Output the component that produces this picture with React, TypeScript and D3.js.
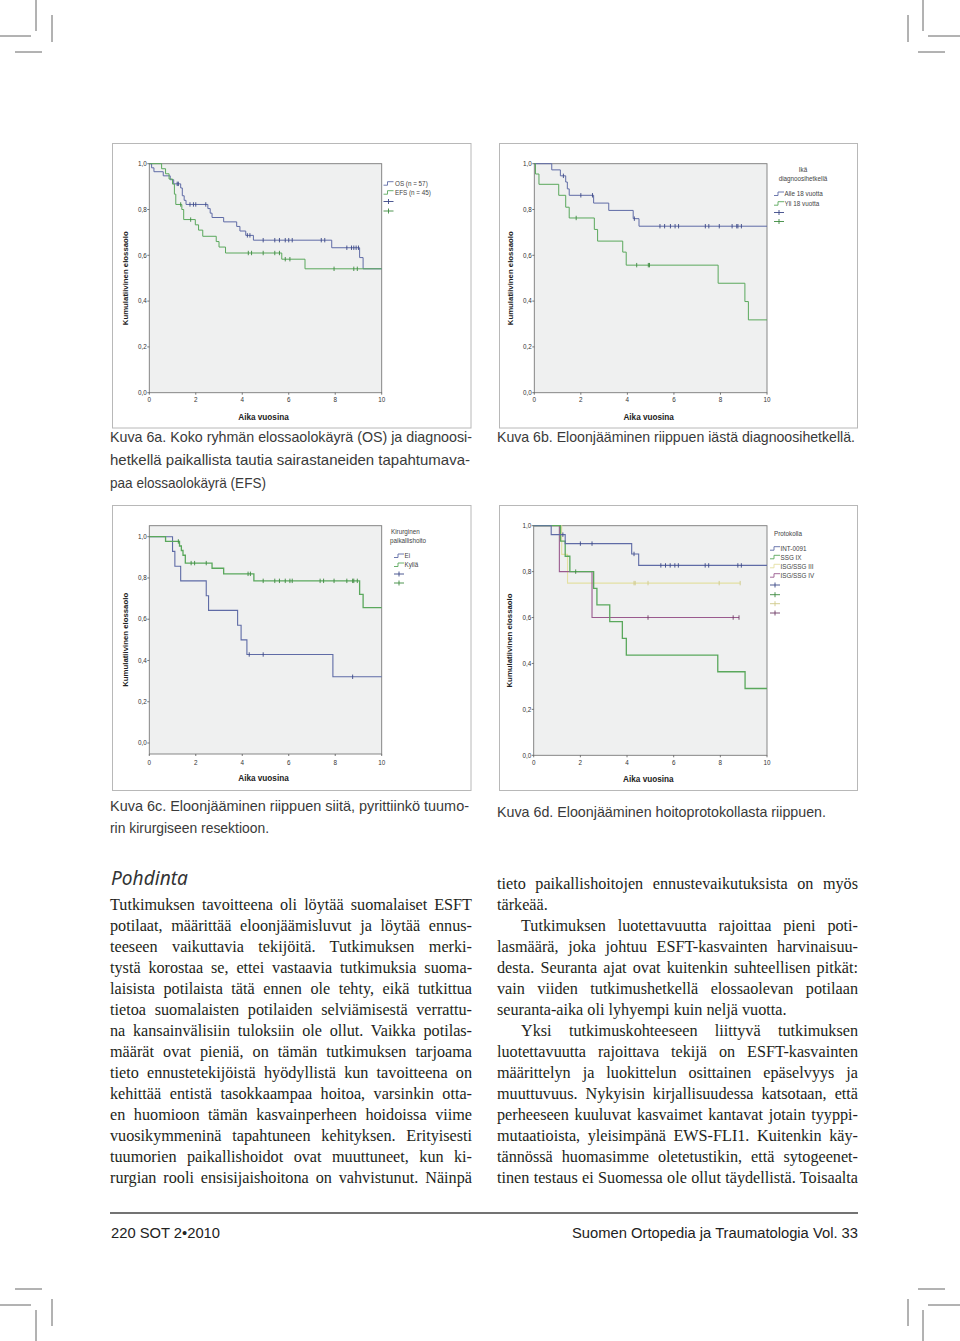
import { useEffect, useRef } from "react";
import * as d3 from "d3";

// ---- Kuva 6a: OS / EFS ----
const osTimes = [0, 0.1, 0.2, 0.6, 0.9, 1.05, 1.35, 1.42, 1.5, 1.58, 2.52, 2.62, 2.7, 3.2, 3.76, 3.9, 4.15, 4.48, 7.85, 9.05, 9.2];
const osSurv = [1, 0.982, 0.965, 0.947, 0.93, 0.912, 0.894, 0.86, 0.84, 0.822, 0.804, 0.784, 0.765, 0.746, 0.726, 0.706, 0.687, 0.666, 0.633, 0.59, 0.541];
const osCens = [1.2, 1.25, 1.75, 1.9, 2.0, 2.43, 4.22, 4.33, 4.9, 5.4, 5.6, 5.85, 6.0, 6.15, 7.4, 7.55, 8.5, 8.7, 8.8, 8.9, 9.0];
const efsTimes = [0, 0.53, 0.7, 0.85, 1.0, 1.08, 1.14, 1.4, 1.48, 1.98, 2.12, 2.3, 2.88, 3.0, 3.28, 5.7, 6.7];
const efsSurv = [1, 0.978, 0.956, 0.933, 0.911, 0.867, 0.822, 0.8, 0.756, 0.733, 0.71, 0.683, 0.66, 0.636, 0.61, 0.583, 0.541];
const efsCens = [1.35, 1.78, 4.26, 4.4, 4.9, 5.4, 5.6, 5.85, 6.05, 7.95, 8.8, 8.95];

// ---- Kuva 6b: ikä diagnoosihetkellä ----
const alleTimes = [0, 0.75, 1.12, 1.35, 1.42, 1.5, 2.55, 3.2, 4.25, 4.5];
const alleSurv = [1, 0.973, 0.947, 0.92, 0.89, 0.862, 0.828, 0.796, 0.76, 0.727];
const alleCens = [1.25, 2.0, 2.5, 4.3, 5.4, 5.6, 5.85, 6.05, 6.2, 7.35, 7.5, 7.95, 8.5, 8.7, 8.75, 8.9];
const yliTimes = [0, 0.05, 0.2, 1.05, 1.35, 1.5, 2.58, 2.72, 3.8, 3.95, 7.9, 9.05, 9.2];
const yliSurv = [1, 0.955, 0.91, 0.862, 0.81, 0.763, 0.713, 0.662, 0.614, 0.557, 0.478, 0.398, 0.318];
const yliCens = [1.8, 4.4, 4.9, 4.95];

// ---- Kuva 6c: kirurginen paikallishoito ----
const eiTimes = [0, 1.0, 1.1, 1.35, 2.45, 2.55, 3.8, 3.95, 4.2, 7.9];
const eiSurv = [1, 0.929, 0.857, 0.786, 0.714, 0.643, 0.571, 0.5, 0.429, 0.321];
const eiCens = [4.3, 4.9, 8.75];
const kyllaTimes = [0, 0.7, 1.3, 1.38, 1.45, 1.55, 2.7, 3.2, 4.5, 9.05, 9.2];
const kyllaSurv = [1, 0.977, 0.955, 0.933, 0.91, 0.872, 0.847, 0.82, 0.786, 0.72, 0.656];
const kyllaCens = [1.25, 1.8, 1.95, 2.45, 4.25, 4.35, 4.9, 5.4, 5.6, 5.85, 6.05, 6.15, 7.35, 7.5, 7.95, 8.5, 8.75, 8.8, 8.95];

// ---- Kuva 6d: hoitoprotokolla ----
const intTimes = [0, 0.75, 1.35, 4.2, 4.5];
const intSurv = [1, 0.961, 0.922, 0.877, 0.827];
const intCens = [1.25, 2.0, 2.5, 4.3, 5.45, 5.65, 5.85, 6.05, 6.2, 7.35, 7.5, 8.75, 8.9];
const ssg9Times = [0, 1.15, 1.35, 1.55, 2.57, 2.71, 3.26, 3.8, 3.97, 7.89, 9.06];
const ssg9Surv = [1, 0.933, 0.867, 0.8, 0.727, 0.655, 0.582, 0.509, 0.436, 0.364, 0.291];
const ssg9Cens = [1.8];
const ssg3Times = [0, 1.2, 1.45];
const ssg3Surv = [1, 0.875, 0.75];
const ssg3Cens = [4.3, 4.35, 4.9, 7.95, 8.85];
const ssg4Times = [0, 1.1, 2.5];
const ssg4Surv = [1, 0.8, 0.6];
const ssg4Cens = [4.9, 8.55, 8.8];

const yTicks = [0, 0.2, 0.4, 0.6, 0.8, 1.0];
const xTicks = [0, 2, 4, 6, 8, 10];

const leftLines = [
  "Tutkimuksen tavoitteena oli löytää suomalaiset ESFT",
  "potilaat, määrittää eloonjäämisluvut ja löytää ennus-",
  "teeseen vaikuttavia tekijöitä. Tutkimuksen merki-",
  "tystä korostaa se, ettei vastaavia tutkimuksia suoma-",
  "laisista potilaista tätä ennen ole tehty, eikä tutkittua",
  "tietoa suomalaisten potilaiden selviämisestä verrattu-",
  "na kansainvälisiin tuloksiin ole ollut. Vaikka potilas-",
  "määrät ovat pieniä, on tämän tutkimuksen tarjoama",
  "tieto ennustetekijöistä hyödyllistä kun tavoitteena on",
  "kehittää entistä tasokkaampaa hoitoa, varsinkin otta-",
  "en huomioon tämän kasvainperheen hoidoissa viime",
  "vuosikymmeninä tapahtuneen kehityksen. Erityisesti",
  "tuumorien paikallishoidot ovat muuttuneet, kun ki-",
  "rurgian rooli ensisijaishoitona on vahvistunut. Näinpä",
];
const rightLines = [
  "tieto paikallishoitojen ennustevaikutuksista on myös",
  "tärkeää.",
  "Tutkimuksen luotettavuutta rajoittaa pieni poti-",
  "lasmäärä, joka johtuu ESFT-kasvainten harvinaisuu-",
  "desta. Seuranta ajat ovat kuitenkin suhteellisen pitkät:",
  "vain viiden tutkimushetkellä elossaolevan potilaan",
  "seuranta-aika oli lyhyempi kuin neljä vuotta.",
  "Yksi tutkimuskohteeseen liittyvä tutkimuksen",
  "luotettavuutta rajoittava tekijä on ESFT-kasvainten",
  "määrittelyn ja luokittelun osittainen epäselvyys ja",
  "muuttuvuus. Nykyisin kirjallisuudessa katsotaan, että",
  "perheeseen kuuluvat kasvaimet kantavat jotain tyyppi-",
  "mutaatioista, yleisimpänä EWS-FLI1. Kuitenkin käy-",
  "tännössä huomasimme oletetustikin, että sytogeenet-",
  "tinen testaus ei Suomessa ole ollut täydellistä. Toisaalta",
];
const rightRagged = [1, 6];
const rightIndent = [2, 7];

const BLUE = "#5f6ba6";
const BLUE_D = "#3b4787";
const GREEN = "#5aa85c";
const GREEN_D = "#3d8a40";
const YELLOW = "#e4e0a2";
const PURPLE = "#9a5a8e";

type Series = { t: number[]; s: number[]; c: number[]; end: number; color: string; mark: string; w?: number };

type ChartProps = {
  frame: [number, number, number, number];
  px: [number, number];
  py: [number, number];
  rect: [number, number];
  series: Series[];
  labelY: number;
  legend: React.ReactNode;
};

const fmt = (v: number) => d3.format(".1f")(v).replace(".", ",");

function KM({ frame, px, py, rect, series, labelY, legend }: ChartProps) {
  const x = d3.scaleLinear().domain([0, 10]).range(px);
  const y = d3.scaleLinear().domain([0, 1]).range(py);
  const line = d3
    .line<[number, number]>()
    .x((d) => x(d[0]))
    .y((d) => y(d[1]))
    .curve(d3.curveStepAfter);
  const [fx, fy, fw, fh] = frame;
  return (
    <g>
      <rect x={fx} y={fy} width={fw} height={fh} fill="#fff" stroke="#b8b8b8" strokeWidth={1} />
      <rect x={px[0]} y={rect[0]} width={px[1] - px[0]} height={rect[1] - rect[0]} fill="#eff0f0" stroke="#7a7a7a" strokeWidth={0.9} />
      {series.map((sr, i) => {
        const pts: [number, number][] = sr.t.map((t, k) => [t, sr.s[k]]);
        pts.push([sr.end, sr.s[sr.s.length - 1]]);
        return (
          <g key={i}>
            <path d={line(pts) || ""} fill="none" stroke={sr.color} strokeWidth={sr.w ?? 1} />
            {sr.c.map((c, k) => {
              const idx = d3.bisectRight(sr.t, c) - 1;
              const v = sr.s[Math.max(0, idx)];
              return <line key={k} x1={x(c)} x2={x(c)} y1={y(v) - 2.2} y2={y(v) + 2.2} stroke={sr.mark} strokeWidth={0.9} />;
            })}
          </g>
        );
      })}
      {yTicks.map((t) => (
        <g key={"y" + t}>
          <line x1={px[0] - 2} x2={px[0]} y1={y(t)} y2={y(t)} stroke="#555" strokeWidth={0.8} />
          <text x={px[0] - 2.5} y={y(t) + 2.2} fontSize={6.3} textAnchor="end" fill="#333" fontFamily="Liberation Sans, Arial">
            {fmt(t)}
          </text>
        </g>
      ))}
      {xTicks.map((t) => (
        <g key={"x" + t}>
          <line x1={x(t)} x2={x(t)} y1={rect[1]} y2={rect[1] + 2} stroke="#555" strokeWidth={0.8} />
          <text x={x(t)} y={labelY + 2.2} fontSize={6.3} textAnchor="middle" fill="#333" fontFamily="Liberation Sans, Arial">
            {t}
          </text>
        </g>
      ))}
      <text x={(px[0] + px[1]) / 2 - 2} y={rect[1] + 27} fontSize={8.2} fontWeight="bold" textAnchor="middle" fill="#222" fontFamily="Liberation Sans, Arial">
        Aika vuosina
      </text>
      <text
        transform={`translate(${px[0] - 21.5},${(rect[0] + rect[1]) / 2}) rotate(-90)`}
        fontSize={7.8}
        fontWeight="bold"
        textAnchor="middle"
        fill="#222"
        fontFamily="Liberation Sans, Arial"
      >
        Kumulatiivinen elossaolo
      </text>
      {legend}
    </g>
  );
}

function StepSym({ x, y, color }: { x: number; y: number; color: string }) {
  return <path d={`M${x},${y + 1.5}H${x + 4}V${y - 2}H${x + 10}`} fill="none" stroke={color} strokeWidth={0.9} />;
}
function PlusSym({ x, y, color }: { x: number; y: number; color: string }) {
  return (
    <g stroke={color} strokeWidth={0.9}>
      <line x1={x} x2={x + 10} y1={y} y2={y} />
      <line x1={x + 5} x2={x + 5} y1={y - 2.5} y2={y + 2.5} />
    </g>
  );
}
function LegendText({ x, y, children, anchor }: { x: number; y: number; children: React.ReactNode; anchor?: string }) {
  return (
    <text x={x} y={y + 2.2} fontSize={6.3} fill="#444" textAnchor={anchor || "start"} fontFamily="Liberation Sans, Arial">
      {children}
    </text>
  );
}

function legendBlock(x: number, items: { label: string; color: string; mark: string }[], rows: number[], textDx: number) {
  return (
    <g>
      {items.map((it, i) => (
        <g key={"s" + i}>
          <StepSym x={x} y={rows[i]} color={it.color} />
          <LegendText x={x + textDx} y={rows[i]}>
            {it.label}
          </LegendText>
        </g>
      ))}
      {items.map((it, i) => (
        <PlusSym key={"p" + i} x={x} y={rows[items.length + i]} color={it.mark} />
      ))}
    </g>
  );
}

function Crop() {
  const st = { stroke: "#666", strokeWidth: 1 };
  return (
    <g {...st}>
      <line x1={36} x2={36} y1={0} y2={31} />
      <line x1={0} x2={31} y1={36} y2={36} />
      <line x1={52} x2={52} y1={15} y2={42} />
      <line x1={15} x2={42} y1={52} y2={52} />
      <line x1={923} x2={923} y1={0} y2={31} />
      <line x1={928} x2={960} y1={36} y2={36} />
      <line x1={908} x2={908} y1={15} y2={42} />
      <line x1={918} x2={945} y1={52} y2={52} />
      <line x1={36} x2={36} y1={1310} y2={1341} />
      <line x1={0} x2={31} y1={1305} y2={1305} />
      <line x1={52} x2={52} y1={1299} y2={1326} />
      <line x1={15} x2={42} y1={1289} y2={1289} />
      <line x1={923} x2={923} y1={1310} y2={1341} />
      <line x1={928} x2={960} y1={1305} y2={1305} />
      <line x1={908} x2={908} y1={1299} y2={1326} />
      <line x1={918} x2={945} y1={1289} y2={1289} />
    </g>
  );
}

export default function App() {
  const ref = useRef<SVGSVGElement | null>(null);

  useEffect(() => {
    // justify body text by word spacing
    d3.select(ref.current)
      .selectAll<SVGTextElement, unknown>("text.just")
      .each(function () {
        const el = this;
        el.setAttribute("word-spacing", "0");
        const target = +(el.getAttribute("data-w") || 0);
        const natural = el.getComputedTextLength();
        const spaces = (el.textContent || "").split(" ").length - 1;
        if (spaces > 0) d3.select(el).attr("word-spacing", ((target - natural) / spaces).toFixed(2));
      });
  }, []);

  const serif = "Liberation Serif, Times New Roman, serif";
  const cond = "Liberation Sans Narrow, Liberation Sans, Arial";

  return (
    <svg ref={ref} width={960} height={1341} style={{ position: "absolute", left: 0, top: 0, background: "#fff" }}>
      <rect width={960} height={1341} fill="#fff" />
      <Crop />

      <KM
        frame={[112.5, 143.5, 358.5, 284.5]}
        px={[149.3, 381.7]}
        py={[392.7, 163.7]}
        rect={[163.7, 392.7]}
        labelY={399.5}
        series={[
          { t: osTimes, s: osSurv, c: osCens, end: 10, color: BLUE, mark: BLUE_D },
          { t: efsTimes, s: efsSurv, c: efsCens, end: 10, color: GREEN, mark: GREEN_D },
        ]}
        legend={legendBlock(
          383.5,
          [
            { label: "OS (n = 57)", color: BLUE, mark: BLUE_D },
            { label: "EFS (n = 45)", color: GREEN, mark: GREEN_D },
          ],
          [183.7, 192.7, 201.5, 211],
          11.5
        )}
      />

      <KM
        frame={[499.5, 143.5, 358, 284.5]}
        px={[534.3, 767]}
        py={[392.7, 163.7]}
        rect={[163.7, 392.7]}
        labelY={399.5}
        series={[
          { t: alleTimes, s: alleSurv, c: alleCens, end: 10, color: BLUE, mark: BLUE_D },
          { t: yliTimes, s: yliSurv, c: yliCens, end: 10, color: GREEN, mark: GREEN_D },
        ]}
        legend={
          <g>
            <LegendText x={803} y={170} anchor="middle">Ikä</LegendText>
            <LegendText x={803} y={179} anchor="middle">diagnoosihetkellä</LegendText>
            {legendBlock(
              774,
              [
                { label: "Alle 18 vuotta", color: BLUE, mark: BLUE_D },
                { label: "Yli 18 vuotta", color: GREEN, mark: GREEN_D },
              ],
              [194, 203.7, 212.5, 221.5],
              10.5
            )}
          </g>
        }
      />

      <KM
        frame={[112.5, 505.5, 358.5, 285]}
        px={[149.3, 381.7]}
        py={[743, 536.7]}
        rect={[525.7, 754]}
        labelY={763}
        series={[
          { t: eiTimes, s: eiSurv, c: eiCens, end: 10, color: BLUE, mark: BLUE_D, w: 1.1 },
          { t: kyllaTimes, s: kyllaSurv, c: kyllaCens, end: 10, color: GREEN, mark: GREEN_D, w: 1.3 },
        ]}
        legend={
          <g>
            <LegendText x={391} y={532}>Kirurginen</LegendText>
            <LegendText x={390} y={541}>paikallishoito</LegendText>
            {legendBlock(
              394,
              [
                { label: "Ei", color: BLUE, mark: BLUE_D },
                { label: "Kyllä", color: GREEN, mark: GREEN_D },
              ],
              [556, 565, 574, 583],
              10.5
            )}
          </g>
        }
      />

      <KM
        frame={[499.5, 505.5, 358, 285]}
        px={[533.7, 767]}
        py={[755.3, 525.7]}
        rect={[525.7, 755.3]}
        labelY={763}
        series={[
          { t: ssg3Times, s: ssg3Surv, c: ssg3Cens, end: 8.85, color: YELLOW, mark: "#cfc98a", w: 1.1 },
          { t: ssg4Times, s: ssg4Surv, c: ssg4Cens, end: 8.8, color: PURPLE, mark: "#6e3a64", w: 1.1 },
          { t: ssg9Times, s: ssg9Surv, c: ssg9Cens, end: 10, color: GREEN, mark: GREEN_D, w: 1.3 },
          { t: intTimes, s: intSurv, c: intCens, end: 10, color: BLUE, mark: BLUE_D, w: 1.1 },
        ]}
        legend={
          <g>
            <LegendText x={774} y={534}>Protokolla</LegendText>
            {legendBlock(
              770,
              [
                { label: "INT-0091", color: BLUE, mark: BLUE_D },
                { label: "SSG IX", color: GREEN, mark: GREEN_D },
                { label: "ISG/SSG III", color: YELLOW, mark: "#cfc98a" },
                { label: "ISG/SSG IV", color: PURPLE, mark: "#6e3a64" },
              ],
              [548.7, 557.3, 566.3, 575.7, 585, 594.7, 603.7, 613],
              10.5
            )}
          </g>
        }
      />

      {/* captions */}
      <g fontFamily={cond} fontSize={15} fill="#3a3a3a">
        <text x={110} y={442} textLength={362} lengthAdjust="spacingAndGlyphs">Kuva 6a. Koko ryhmän elossaolokäyrä (OS) ja diagnoosi-</text>
        <text x={110} y={465} textLength={360} lengthAdjust="spacingAndGlyphs">hetkellä paikallista tautia sairastaneiden tapahtumava-</text>
        <text x={110} y={488} textLength={156} lengthAdjust="spacingAndGlyphs">paa elossaolokäyrä (EFS)</text>
        <text x={497} y={442} textLength={358} lengthAdjust="spacingAndGlyphs">Kuva 6b. Eloonjääminen riippuen iästä diagnoosihetkellä.</text>
        <text x={110} y={811} textLength={359} lengthAdjust="spacingAndGlyphs">Kuva 6c. Eloonjääminen riippuen siitä, pyrittiinkö tuumo-</text>
        <text x={110} y={833} textLength={159} lengthAdjust="spacingAndGlyphs">rin kirurgiseen resektioon.</text>
        <text x={497} y={817} textLength={329} lengthAdjust="spacingAndGlyphs">Kuva 6d. Eloonjääminen hoitoprotokollasta riippuen.</text>
      </g>

      <text x={111} y={885} fontFamily="Noto Sans, Open Sans, sans-serif" fontStyle="italic" fontSize={19.5} fill="#333" textLength={77} lengthAdjust="spacingAndGlyphs">
        Pohdinta
      </text>

      <g fontFamily={serif} fontSize={16.2} fill="#231f20">
        {leftLines.map((l, i) => (
          <text key={"l" + i} className="just" data-w={362} x={110} y={910 + i * 21}>
            {l}
          </text>
        ))}
        {rightLines.map((l, i) => {
          const x0 = rightIndent.includes(i) ? 521 : 497;
          const ragged = rightRagged.includes(i);
          return (
            <text key={"r" + i} className={ragged ? "" : "just"} data-w={858 - x0} x={x0} y={889 + i * 21}>
              {l}
            </text>
          );
        })}
      </g>

      {/* footer */}
      <line x1={110} x2={858} y1={1213} y2={1213} stroke="#444" strokeWidth={1.6} />
      <g fontFamily={cond} fontSize={15.5} fill="#222">
        <text x={111} y={1238} textLength={109} lengthAdjust="spacingAndGlyphs">220 SOT 2•2010</text>
        <text x={572} y={1238} textLength={286} lengthAdjust="spacingAndGlyphs">Suomen Ortopedia ja Traumatologia Vol. 33</text>
      </g>
    </svg>
  );
}
